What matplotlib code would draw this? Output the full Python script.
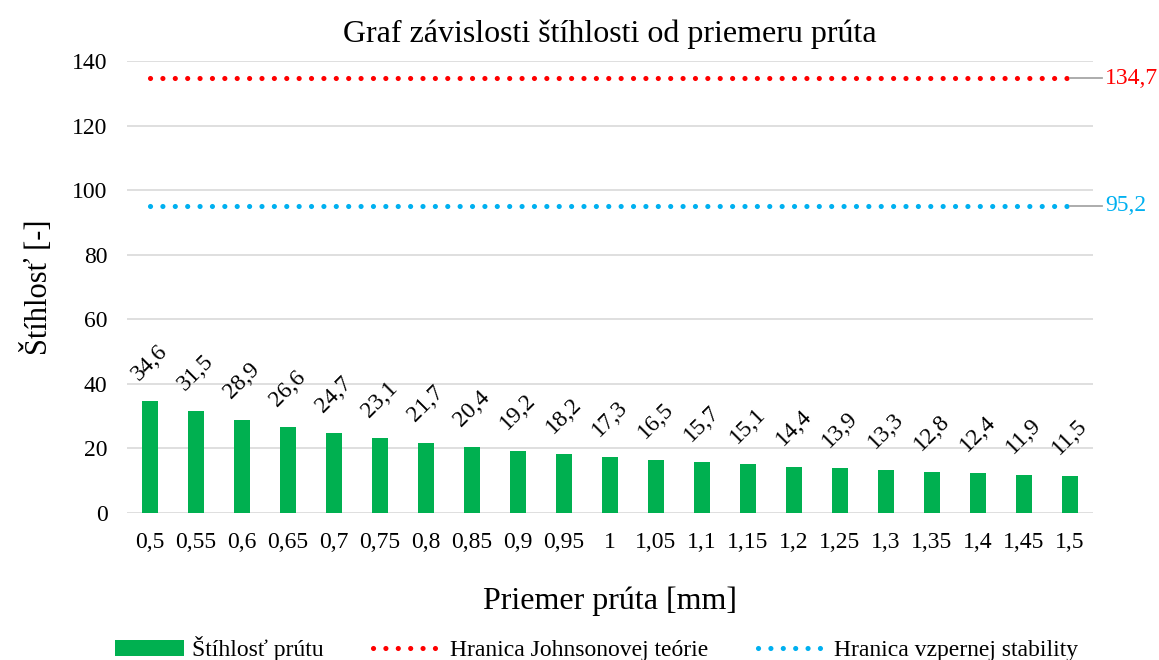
import matplotlib.pyplot as plt
import numpy as np

# data
diameters = ["0,5", "0,55", "0,6", "0,65", "0,7", "0,75", "0,8", "0,85", "0,9", "0,95", "1",
             "1,05", "1,1", "1,15", "1,2", "1,25", "1,3", "1,35", "1,4", "1,45", "1,5"]
slenderness = [34.6, 31.5, 28.9, 26.6, 24.7, 23.1, 21.7, 20.4, 19.2, 18.2, 17.3,
               16.5, 15.7, 15.1, 14.4, 13.9, 13.3, 12.8, 12.4, 11.9, 11.5]
johnson_limit = 134.7
buckling_limit = 95.2

GREEN = "#00B050"
RED = "#FF0000"
BLUE = "#00B0F0"

plt.rcParams['font.family'] = ['Liberation Serif', 'DejaVu Serif']

fig = plt.figure(figsize=(11.59, 6.6), dpi=100)
ax = fig.add_axes([0.1096, 0.2227, 0.8334, 0.6849])

x = np.arange(len(diameters))
bars = ax.bar(x, slenderness, width=0.35, color=GREEN, zorder=3,
              label="Štíhlosť prútu")

def comma(v):
    return ("%.1f" % v).replace(".", ",")

for xi, v in zip(x, slenderness):
    ax.annotate(comma(v), (xi, v), xytext=(0, 28), textcoords="offset points",
                ha="center", va="center", rotation=45, fontsize=17,
                rotation_mode="anchor")

dots = dict(linestyle=(0, (0.01, 2.4)), linewidth=3.7, dash_capstyle="round",
            zorder=4)
l1, = ax.plot(x, [johnson_limit] * len(x), color=RED,
              label="Hranica Johnsonovej teórie", **dots)
l2, = ax.plot(x, [buckling_limit] * len(x), color=BLUE,
              label="Hranica vzpernej stability", **dots)

# value labels for the limits, with short leader lines
for v, c in [(johnson_limit, RED), (buckling_limit, BLUE)]:
    ax.plot([x[-1], x[-1] + 0.7], [v, v], color="#A6A6A6", lw=1.3,
            clip_on=False, zorder=4)
    ax.text(x[-1] + 0.77, v, comma(v), color=c, fontsize=17, va="center",
            ha="left", clip_on=False)

ax.set_xlim(-0.5, len(x) - 0.5)
ax.set_ylim(0, 140)
ax.set_yticks(np.arange(0, 141, 20))
ax.set_xticks(x)
ax.set_xticklabels(diameters)
ax.tick_params(axis="both", length=0, labelsize=17)
ax.tick_params(axis="x", pad=14)
ax.tick_params(axis="y", pad=14)
ax.grid(axis="y", color="#D9D9D9", linewidth=1.2, zorder=0)
for s in ax.spines.values():
    s.set_visible(False)

ax.set_title("Graf závislosti štíhlosti od priemeru prúta", fontsize=23, pad=14)
ax.set_xlabel("Priemer prúta [mm]", fontsize=23, labelpad=24)
ax.set_ylabel("Štíhlosť [-]", fontsize=22, labelpad=13)

fig.legend(handles=[bars, l1, l2], loc="lower center",
           bbox_to_anchor=(0.515, -0.034), ncol=3, frameon=False, fontsize=17,
           handlelength=2.9, columnspacing=2.1, handletextpad=0.35)

fig.savefig("out.png", dpi=100)
